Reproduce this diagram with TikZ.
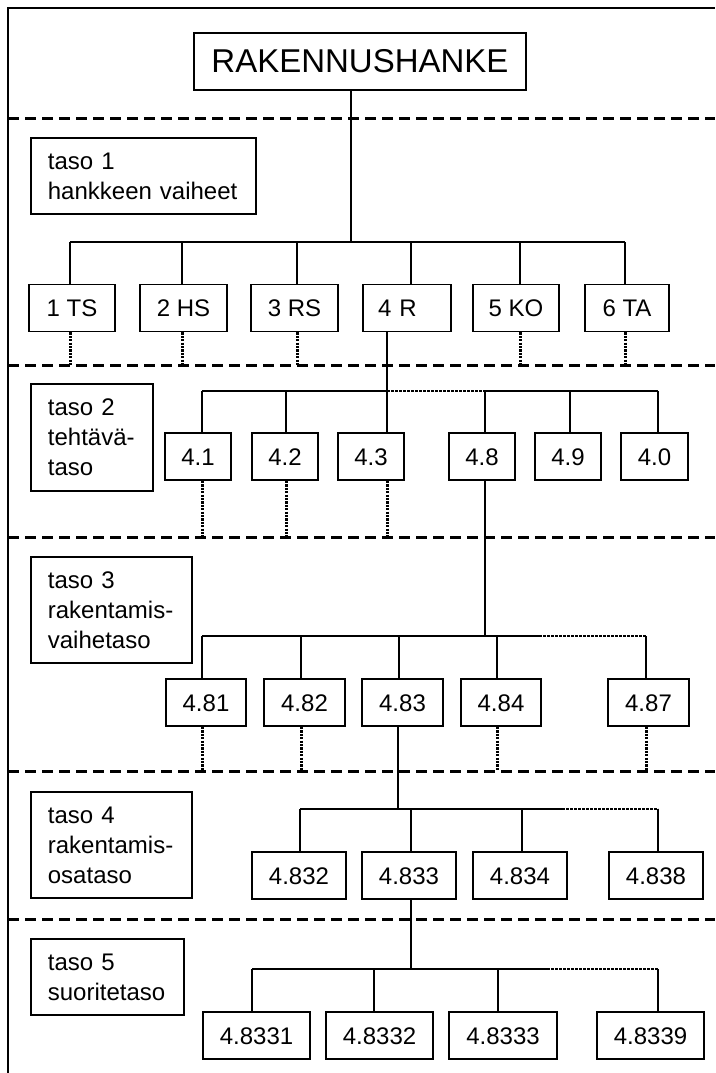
\documentclass[tikz,border=0pt]{standalone}
\usepackage{fontspec}
\setmainfont{Liberation Sans}
\begin{document}
\begin{tikzpicture}[x=1pt, y=-1pt,
  unit/.style={draw, line width=1.8pt, minimum height=47pt, inner sep=0pt, text height=17.5pt, text depth=0pt, font=\fontsize{24}{29}\selectfont},
  tasobox/.style={draw, line width=1.8pt, anchor=north west, align=left, inner xsep=17pt, inner ysep=0pt, font=\fontsize{24}{30}\selectfont},
  link/.style={line width=1.7pt},
  sep/.style={line width=3pt, dash pattern=on 11pt off 6pt},
  dotstub/.style={line width=3pt, dash pattern=on 2.2pt off 1.2pt},
  dotbar/.style={line width=2pt, dash pattern=on 2.8pt off 1.2pt}]
      \useasboundingbox (0,0) rectangle (715,1073);
      \draw[line width=2pt] (8,1073) -- (8,8) -- (715,8);

      \coordinate (s1) at (8,118);
      \coordinate (s2) at (8,365);
      \coordinate (s3) at (8,537);
      \coordinate (s4) at (8,771);
      \coordinate (s5) at (8,919);
      \coordinate (edge) at (715,0);
      \draw[sep] (s1) -- (s1 -| edge);
      \draw[sep] (s2) -- (s2 -| edge);
      \draw[sep] (s3) -- (s3 -| edge);
      \draw[sep] (s4) -- (s4 -| edge);
      \draw[sep] (s5) -- (s5 -| edge);

      \node[tasobox, text width=191pt, minimum height=76pt] (k1) at (30,137) {taso 1\\hankkeen vaiheet};
      \node[tasobox, text width=88pt, minimum height=107pt] (k2) at (30,383) {taso 2\\tehtävä-\\taso};
      \node[tasobox, text width=127pt, minimum height=106pt] (k3) at (30,556) {taso 3\\rakentamis-\\vaihetaso};
      \node[tasobox, text width=127pt, minimum height=106pt] (k4) at (30,791) {taso 4\\rakentamis-\\osataso};
      \node[tasobox, text width=119pt, minimum height=76pt] (k5) at (30,938) {taso 5\\suoritetaso};

      \node[draw, line width=1.8pt, minimum width=332pt, minimum height=57pt, font=\fontsize{33}{38}\selectfont] (hanke) at (360,61.5) {RAKENNUSHANKE};

      \node[unit, minimum width=86pt] (p1) at (72,308) {1 TS};
      \node[unit, minimum width=87pt] (p2) at (183.5,308) {2 HS};
      \node[unit, minimum width=87pt] (p3) at (294.5,308) {3 RS};
      \node[unit, minimum width=88pt, text width=58pt, align=left] (p4) at (407,308) {4 R};
      \node[unit, minimum width=86pt] (p5) at (516,308) {5 KO};
      \node[unit, minimum width=84pt] (p6) at (627,308) {6 TA};

      \node[unit, minimum width=66pt] (q1) at (198,456.5) {4.1};
      \node[unit, minimum width=66pt] (q2) at (285,456.5) {4.2};
      \node[unit, minimum width=66pt] (q3) at (371,456.5) {4.3};
      \node[unit, minimum width=66pt] (q4) at (482,456.5) {4.8};
      \node[unit, minimum width=66pt] (q5) at (568,456.5) {4.9};
      \node[unit, minimum width=67pt] (q6) at (654.5,456.5) {4.0};

      \node[unit, minimum width=80pt] (r1) at (206,702.5) {4.81};
      \node[unit, minimum width=81pt] (r2) at (304.5,702.5) {4.82};
      \node[unit, minimum width=81pt] (r3) at (402.5,702.5) {4.83};
      \node[unit, minimum width=80pt] (r4) at (501,702.5) {4.84};
      \node[unit, minimum width=81pt] (r5) at (648.5,702.5) {4.87};

      \node[unit, minimum width=94pt] (u1) at (299,875.5) {4.832};
      \node[unit, minimum width=94pt] (u2) at (409,875.5) {4.833};
      \node[unit, minimum width=94pt] (u3) at (520,875.5) {4.834};
      \node[unit, minimum width=94pt] (u4) at (656,875.5) {4.838};

      \node[unit, minimum width=107pt] (v1) at (256.5,1035.5) {4.8331};
      \node[unit, minimum width=107pt] (v2) at (379.5,1035.5) {4.8332};
      \node[unit, minimum width=108pt] (v3) at (503,1035.5) {4.8333};
      \node[unit, minimum width=107pt] (v4) at (650.5,1035.5) {4.8339};

      \coordinate (a0) at (351,242);
      \coordinate (a1) at (70,242);
      \coordinate (a2) at (182,242);
      \coordinate (a3) at (297,242);
      \coordinate (a4) at (411,242);
      \coordinate (a5) at (520,242);
      \coordinate (a6) at (625,242);
      \draw[link] (hanke.south -| a0) -- (a0);
      \draw[link] (a1) -- (a6);
      \draw[link] (a1) -- (a1 |- p1.north);
      \draw[link] (a2) -- (a2 |- p2.north);
      \draw[link] (a3) -- (a3 |- p3.north);
      \draw[link] (a4) -- (a4 |- p4.north);
      \draw[link] (a5) -- (a5 |- p5.north);
      \draw[link] (a6) -- (a6 |- p6.north);
      \draw[dotstub] (p1.south -| a1) -- (a1 |- s2);
      \draw[dotstub] (p2.south -| a2) -- (a2 |- s2);
      \draw[dotstub] (p3.south -| a3) -- (a3 |- s2);
      \draw[dotstub] (p5.south -| a5) -- (a5 |- s2);
      \draw[dotstub] (p6.south -| a6) -- (a6 |- s2);

      \coordinate (b1) at (202,391);
      \coordinate (b2) at (286,391);
      \coordinate (b3) at (387,391);
      \coordinate (b4) at (485,391);
      \coordinate (b5) at (570,391);
      \coordinate (b6) at (658,391);
      \draw[link] (p4.south -| b3) -- (b3);
      \draw[link] (b1) -- (b3);
      \draw[dotbar] (b3) -- (b4);
      \draw[link] (b4) -- (b6);
      \draw[link] (b1) -- (b1 |- q1.north);
      \draw[link] (b2) -- (b2 |- q2.north);
      \draw[link] (b3) -- (b3 |- q3.north);
      \draw[link] (b4) -- (b4 |- q4.north);
      \draw[link] (b5) -- (b5 |- q5.north);
      \draw[link] (b6) -- (b6 |- q6.north);
      \draw[dotstub] (q1.south -| b1) -- (b1 |- s3);
      \draw[dotstub] (q2.south -| b2) -- (b2 |- s3);
      \draw[dotstub] (q3.south -| b3) -- (b3 |- s3);

      \coordinate (c0) at (485,636);
      \coordinate (c1) at (202,636);
      \coordinate (c2) at (301,636);
      \coordinate (c3) at (399,636);
      \coordinate (c4) at (497,636);
      \coordinate (cm) at (539,636);
      \coordinate (c5) at (646,636);
      \draw[link] (q4.south -| c0) -- (c0);
      \draw[link] (c1) -- (cm);
      \draw[dotbar] (cm) -- (c5);
      \draw[link] (c1) -- (c1 |- r1.north);
      \draw[link] (c2) -- (c2 |- r2.north);
      \draw[link] (c3) -- (c3 |- r3.north);
      \draw[link] (c4) -- (c4 |- r4.north);
      \draw[link] (c5) -- (c5 |- r5.north);
      \draw[dotstub] (r1.south -| c1) -- (c1 |- s4);
      \draw[dotstub] (r2.south -| c2) -- (c2 |- s4);
      \draw[dotstub] (r4.south -| c4) -- (c4 |- s4);
      \draw[dotstub] (r5.south -| c5) -- (c5 |- s4);

      \coordinate (d0) at (398,809);
      \coordinate (d1) at (300,809);
      \coordinate (d2) at (411,809);
      \coordinate (d3) at (522,809);
      \coordinate (dm) at (562,809);
      \coordinate (d4) at (658,809);
      \draw[link] (r3.south -| d0) -- (d0);
      \draw[link] (d1) -- (dm);
      \draw[dotbar] (dm) -- (d4);
      \draw[link] (d1) -- (d1 |- u1.north);
      \draw[link] (d2) -- (d2 |- u2.north);
      \draw[link] (d3) -- (d3 |- u3.north);
      \draw[link] (d4) -- (d4 |- u4.north);

      \coordinate (e0) at (411,969);
      \coordinate (e1) at (252,969);
      \coordinate (e2) at (374,969);
      \coordinate (e3) at (498,969);
      \coordinate (em) at (547,969);
      \coordinate (e4) at (658,969);
      \draw[link] (u2.south -| e0) -- (e0);
      \draw[link] (e1) -- (em);
      \draw[dotbar] (em) -- (e4);
      \draw[link] (e1) -- (e1 |- v1.north);
      \draw[link] (e2) -- (e2 |- v2.north);
      \draw[link] (e3) -- (e3 |- v3.north);
      \draw[link] (e4) -- (e4 |- v4.north);
    \end{tikzpicture}
\end{document}
